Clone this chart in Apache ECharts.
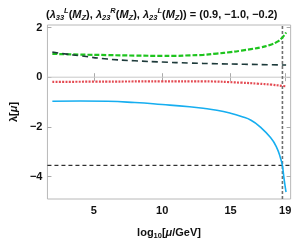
<!DOCTYPE html>
<html><head><meta charset="utf-8">
<script src="https://cdn.jsdelivr.net/npm/echarts@6/dist/echarts.min.js"></script>
<style>html,body{margin:0;padding:0;background:#fff}#c{width:294px;height:245px}</style>
</head><body><div id="c"></div>
<script>
const xTicks = [5, 10, 15, 19];
const yTicks = [-4, -2, 0, 2];
const greenX = [1.96, 4, 6, 8, 10, 11, 12, 13, 14, 15, 15.8, 16.5, 17.2, 17.9, 18.4, 18.8, 19.07];
const greenY = [0.94, 0.91, 0.89, 0.87, 0.86, 0.86, 0.88, 0.9, 0.95, 1.01, 1.07, 1.13, 1.2, 1.3, 1.42, 1.6, 1.8];
const darkX = [1.96, 3, 4, 6, 8, 10, 12, 14, 16, 18, 19.07];
const darkY = [1.01, 0.93, 0.86, 0.73, 0.66, 0.61, 0.57, 0.54, 0.52, 0.5, 0.49];
const redX = [1.96, 5, 10, 13, 15.8, 17, 18, 18.8, 19.07];
const redY = [-0.19, -0.18, -0.17, -0.17, -0.22, -0.26, -0.3, -0.35, -0.37];
const blueX = [1.96, 4, 6, 8, 10, 12, 13, 14, 15, 15.8, 16.5, 17.19, 17.88, 18.35, 18.69, 18.8, 18.92, 19.04, 19.07];
const blueY = [-0.97, -0.96, -0.97, -1.02, -1.1, -1.19, -1.25, -1.33, -1.45, -1.58, -1.73, -2.01, -2.4, -2.79, -3.31, -3.57, -4.09, -4.54, -4.62];
const bound = -3.545;
const poleX = 18.8;

const zip = (xs, ys) => xs.map((x, i) => [x, ys[i]]);
const chart = echarts.init(document.getElementById('c'), null, {renderer: 'canvas'});
const F = 'Liberation Sans, Arial, sans-serif';
const tickCol = '#aaaaaa';
const fs = 11;
chart.setOption({
  animation: false,
  title: {
    text: '({a|λ}{sub|33}{sup|L}({it|M}{sub|Z}), {a|λ}{sub|23}{sup|R}({it|M}{sub|Z}), {a|λ}{sub|23}{sup|L}({it|M}{sub|Z})) = (0.9, −1.0, −0.2)',
    left: 41, top: 2,
    textStyle: {
      fontFamily: F, fontSize: fs, fontWeight: 'bold', color: '#111',
      rich: {
        a: {fontFamily: F, fontSize: fs, fontWeight: 'bold', fontStyle: 'italic', color: '#111'},
        it: {fontFamily: F, fontSize: fs, fontWeight: 'bold', fontStyle: 'italic', color: '#111'},
        sub: {fontFamily: F, fontSize: 7.5, fontWeight: 'bold', fontStyle: 'italic', color: '#111', verticalAlign: 'bottom', lineHeight: 15},
        sup: {fontFamily: F, fontSize: 7.5, fontWeight: 'bold', fontStyle: 'italic', color: '#111', verticalAlign: 'top', lineHeight: 15}
      }
    }
  },
  grid: {left: 35, top: 25, right: 2.5, bottom: 42, show: true, borderColor: '#b8b8b8', borderWidth: 1},
  xAxis: [{
    type: 'value', min: 1.6, max: 19.4,
    name: 'log{sub|10}[{it|μ}/GeV]', nameLocation: 'middle', nameGap: 26,
    nameTextStyle: {fontFamily: F, fontSize: 11, fontWeight: 'bold', color: '#111',
      rich: {sub: {fontFamily: F, fontSize: 7.5, fontWeight: 'bold', color: '#111', verticalAlign: 'bottom', lineHeight: 15},
             it: {fontFamily: F, fontSize: 11, fontWeight: 'bold', fontStyle: 'italic', color: '#111'}}},
    axisLine: {show: false},
    splitLine: {show: false},
    axisTick: {show: true, inside: true, length: 4, lineStyle: {color: tickCol}, customValues: xTicks},
    axisLabel: {customValues: xTicks, fontFamily: F, fontSize: 11, fontWeight: 'bold', color: '#111', margin: 6, formatter: v => String(v)}
  }, {
    type: 'value', min: 1.6, max: 19.4, position: 'top',
    axisLine: {show: false}, splitLine: {show: false},
    axisTick: {show: true, inside: true, length: 4, lineStyle: {color: tickCol}, customValues: xTicks},
    axisLabel: {show: false}
  }],
  yAxis: [{
    type: 'value', min: -4.9, max: 2.1,
    name: 'λ[{it|μ}]', nameLocation: 'middle', nameGap: 23, nameRotate: 90,
    nameTextStyle: {fontFamily: F, fontSize: 11, fontWeight: 'bold', color: '#111',
      rich: {it: {fontFamily: F, fontSize: 11, fontWeight: 'bold', fontStyle: 'italic', color: '#111'}}},
    axisLine: {show: false}, splitLine: {show: false},
    axisTick: {show: true, inside: true, length: 4, lineStyle: {color: tickCol}, customValues: yTicks},
    axisLabel: {customValues: yTicks, fontFamily: F, fontSize: 11, fontWeight: 'bold', color: '#111', margin: 5,
      formatter: v => (v < 0 ? '−' + (-v) : String(v))}
  }, {
    type: 'value', min: -4.9, max: 2.1, position: 'right',
    axisLine: {show: false}, splitLine: {show: false},
    axisTick: {show: true, inside: true, length: 4, lineStyle: {color: tickCol}, customValues: yTicks},
    axisLabel: {show: false}
  }],
  series: [
    {type: 'line', data: [[1.6, 0], [19.4, 0]], showSymbol: false, silent: true,
     lineStyle: {color: '#c8c8c8', width: 1}, z: 1},
    {type: 'line', data: [[1.6, bound], [19.4, bound]], showSymbol: false, silent: true,
     lineStyle: {color: '#000', width: 1, type: [4, 3]}, z: 2},
    {type: 'line', data: [[poleX, -4.9], [poleX, 2.1]], showSymbol: false, silent: true,
     lineStyle: {color: '#707070', width: 1.6, type: [3, 2]}, z: 2},
    {type: 'line', data: zip(darkX, darkY), smooth: true, showSymbol: false,
     lineStyle: {color: '#1d3a3a', width: 1.6, type: [6, 4]}, z: 4},
    {type: 'line', data: zip(greenX, greenY), smooth: true, showSymbol: false,
     lineStyle: {color: '#1ec41e', width: 2.2, type: [5, 2]}, z: 3},
    {type: 'line', data: zip(redX, redY), smooth: true, showSymbol: false,
     lineStyle: {color: '#e44a52', width: 2.2, type: [2, 1.3]}, z: 3},
    {type: 'line', data: zip(blueX, blueY), smooth: true, showSymbol: false,
     lineStyle: {color: '#16aef0', width: 1.6}, z: 3}
  ]
});
</script></body></html>
